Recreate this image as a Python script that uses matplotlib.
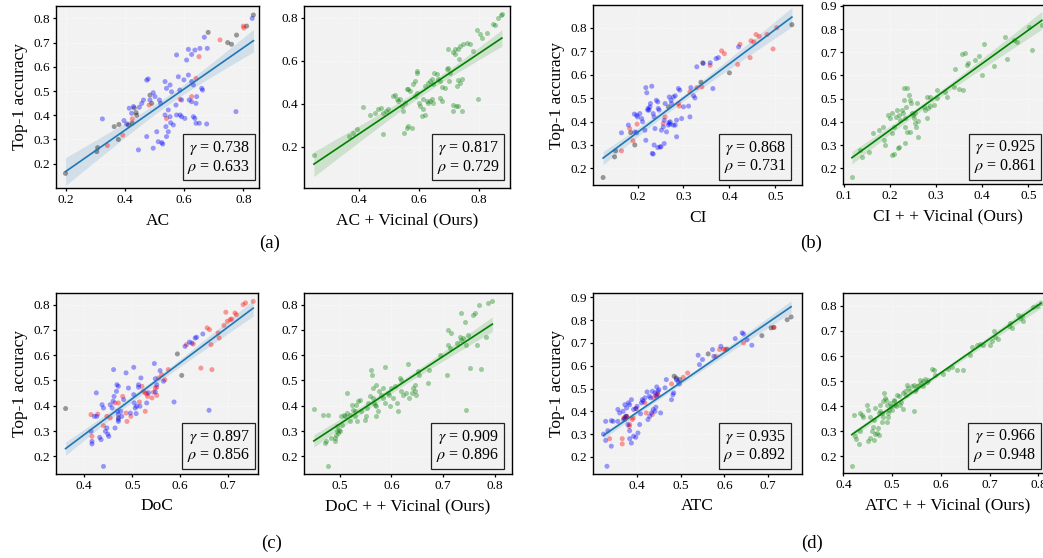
import numpy as np
import matplotlib
matplotlib.use("Agg")
import matplotlib.pyplot as plt

plt.rcParams["font.family"] = ["Liberation Serif", "DejaVu Serif"]
plt.rcParams["mathtext.fontset"] = "stix"

# ---------------- (a) AC ----------------
ac_x = [0.198, 0.304, 0.307, 0.363, 0.379, 0.377, 0.411, 0.424, 0.431, 0.437, 0.439, 0.484, 0.490,
        0.681, 0.747, 0.760, 0.777, 0.811, 0.834,
        0.340, 0.392, 0.424, 0.481, 0.540, 0.586, 0.625, 0.640, 0.650, 0.721, 0.800, 0.802,
        0.323, 0.396, 0.405, 0.414, 0.422, 0.428, 0.445, 0.448, 0.456, 0.462, 0.473, 0.478, 0.473,
        0.484, 0.495, 0.501, 0.507, 0.495, 0.512, 0.524, 0.527, 0.516, 0.520, 0.535, 0.540, 0.552,
        0.557, 0.535, 0.546, 0.552, 0.554, 0.563, 0.538, 0.546, 0.540, 0.580, 0.585, 0.591, 0.599,
        0.572, 0.574, 0.586, 0.591, 0.602, 0.574, 0.608, 0.625, 0.614, 0.636, 0.653, 0.668, 0.678,
        0.614, 0.625, 0.631, 0.617, 0.625, 0.642, 0.640, 0.659, 0.662, 0.631, 0.636, 0.640, 0.651,
        0.676, 0.775, 0.830]
ac_y = [0.160, 0.250, 0.266, 0.353, 0.362, 0.300, 0.360, 0.367, 0.430, 0.411, 0.400, 0.483, 0.449,
        0.742, 0.700, 0.693, 0.731, 0.768, 0.814,
        0.275, 0.318, 0.385, 0.442, 0.387, 0.466, 0.477, 0.552, 0.642, 0.711, 0.768, 0.760,
        0.385, 0.378, 0.364, 0.429, 0.408, 0.436, 0.257, 0.433, 0.449, 0.463, 0.545, 0.550, 0.312,
        0.463, 0.493, 0.477, 0.332, 0.264, 0.291, 0.287, 0.281, 0.463, 0.449, 0.539, 0.511, 0.525,
        0.497, 0.401, 0.422, 0.394, 0.369, 0.360, 0.353, 0.332, 0.312, 0.559, 0.504, 0.463, 0.546,
        0.442, 0.401, 0.401, 0.394, 0.387, 0.649, 0.628, 0.651, 0.672, 0.669, 0.676, 0.722, 0.676,
        0.566, 0.539, 0.525, 0.463, 0.456, 0.477, 0.449, 0.511, 0.504, 0.394, 0.387, 0.367, 0.367,
        0.364, 0.415, 0.800]
ac_counts = (19, 12)   # gray, red; the rest are blue

# ---------------- (a) AC + Vicinal ----------------
acv_x = [0.250, 0.368, 0.379, 0.392, 0.414, 0.437, 0.453, 0.464, 0.472, 0.481, 0.490, 0.498, 0.481,
         0.514, 0.520, 0.526, 0.531, 0.537, 0.542, 0.548, 0.553, 0.551, 0.559, 0.564, 0.576, 0.559,
         0.564, 0.570, 0.579, 0.587, 0.592, 0.594, 0.587, 0.592, 0.601, 0.603, 0.614, 0.620, 0.609,
         0.614, 0.626, 0.631, 0.637, 0.642, 0.648, 0.620, 0.631, 0.637, 0.642, 0.648, 0.651, 0.659,
         0.664, 0.670, 0.670, 0.676, 0.676, 0.687, 0.692, 0.698, 0.703, 0.701, 0.698, 0.712, 0.720,
         0.729, 0.720, 0.712, 0.723, 0.714, 0.742, 0.731, 0.737, 0.748, 0.759, 0.770, 0.726, 0.737,
         0.742, 0.731, 0.733, 0.803, 0.792, 0.809, 0.826, 0.798, 0.848, 0.853, 0.872, 0.876, 0.864,
         0.781]
acv_y = [0.161, 0.250, 0.265, 0.281, 0.386, 0.350, 0.355, 0.374, 0.381, 0.358, 0.366, 0.374, 0.262,
         0.436, 0.443, 0.420, 0.412, 0.420, 0.389, 0.366, 0.405, 0.265, 0.288, 0.296, 0.288, 0.467,
         0.467, 0.459, 0.490, 0.505, 0.552, 0.544, 0.436, 0.451, 0.405, 0.389, 0.374, 0.350, 0.343,
         0.420, 0.412, 0.405, 0.412, 0.420, 0.405, 0.482, 0.498, 0.505, 0.513, 0.490, 0.544, 0.536,
         0.513, 0.505, 0.428, 0.412, 0.479, 0.474, 0.560, 0.567, 0.544, 0.505, 0.653, 0.640, 0.653,
         0.653, 0.629, 0.394, 0.389, 0.366, 0.366, 0.389, 0.668, 0.676, 0.684, 0.676, 0.482, 0.498,
         0.513, 0.510, 0.606, 0.722, 0.741, 0.707, 0.730, 0.420, 0.769, 0.764, 0.811, 0.816, 0.800,
         0.645]

# ---------------- (b) CI ----------------
ci_x = [0.125, 0.150, 0.152, 0.185, 0.194, 0.267, 0.338, 0.342, 0.400, 0.536,
        0.165, 0.183, 0.190, 0.199, 0.256, 0.260, 0.289, 0.291, 0.314, 0.329, 0.340, 0.358, 0.383,
        0.389, 0.418, 0.423, 0.445, 0.447, 0.453, 0.458, 0.465, 0.482, 0.495, 0.503,
        0.165, 0.180, 0.193, 0.198, 0.194, 0.198, 0.200, 0.205, 0.209, 0.211, 0.218, 0.220, 0.222,
        0.223, 0.225, 0.227, 0.228, 0.218, 0.216, 0.231, 0.234, 0.236, 0.238, 0.236, 0.232, 0.234,
        0.241, 0.244, 0.245, 0.247, 0.244, 0.249, 0.251, 0.258, 0.252, 0.256, 0.258, 0.260, 0.263,
        0.267, 0.268, 0.271, 0.271, 0.269, 0.273, 0.274, 0.278, 0.282, 0.278, 0.285, 0.285, 0.282,
        0.289, 0.292, 0.296, 0.300, 0.311, 0.314, 0.316, 0.322, 0.325, 0.329, 0.343, 0.358, 0.364,
        0.371, 0.376, 0.420]
ci_y = [0.161, 0.249, 0.275, 0.353, 0.300, 0.463, 0.568, 0.651, 0.608, 0.814,
        0.275, 0.370, 0.318, 0.389, 0.392, 0.420, 0.477, 0.466, 0.527, 0.545, 0.548, 0.640, 0.702,
        0.690, 0.644, 0.730, 0.673, 0.745, 0.740, 0.772, 0.764, 0.772, 0.710, 0.801,
        0.352, 0.385, 0.432, 0.427, 0.356, 0.352, 0.420, 0.434, 0.413, 0.399, 0.545, 0.523, 0.449,
        0.456, 0.449, 0.463, 0.477, 0.320, 0.363, 0.551, 0.434, 0.420, 0.370, 0.300, 0.264, 0.261,
        0.491, 0.484, 0.456, 0.449, 0.289, 0.292, 0.292, 0.306, 0.363, 0.377, 0.406, 0.477, 0.356,
        0.385, 0.395, 0.399, 0.389, 0.505, 0.491, 0.477, 0.505, 0.510, 0.385, 0.406, 0.335, 0.385,
        0.541, 0.534, 0.413, 0.463, 0.466, 0.420, 0.545, 0.510, 0.501, 0.634, 0.648, 0.651, 0.541,
        0.669, 0.673, 0.719]
ci_counts = (10, 24)

# ---------------- (b) CI + Vicinal ----------------
civ_x = [0.118, 0.136, 0.140, 0.154, 0.163, 0.176, 0.185, 0.187, 0.190, 0.197, 0.200, 0.205, 0.205,
         0.208, 0.208, 0.205, 0.214, 0.215, 0.219, 0.221, 0.217, 0.220, 0.230, 0.238, 0.231, 0.236,
         0.226, 0.228, 0.233, 0.233, 0.237, 0.241, 0.243, 0.246, 0.250, 0.248, 0.253, 0.255, 0.257,
         0.262, 0.233, 0.244, 0.262, 0.255, 0.259, 0.273, 0.277, 0.280, 0.280, 0.287, 0.282, 0.286,
         0.295, 0.302, 0.302, 0.320, 0.324, 0.338, 0.342, 0.349, 0.356, 0.363, 0.358, 0.367, 0.370,
         0.385, 0.394, 0.399, 0.404, 0.426, 0.450, 0.453, 0.468, 0.475, 0.507, 0.502, 0.529]
civ_y = [0.161, 0.279, 0.250, 0.272, 0.350, 0.365, 0.379, 0.322, 0.300, 0.429, 0.415, 0.437, 0.351,
         0.379, 0.262, 0.257, 0.422, 0.451, 0.429, 0.408, 0.286, 0.293, 0.544, 0.548, 0.494, 0.465,
         0.451, 0.437, 0.415, 0.379, 0.358, 0.515, 0.494, 0.480, 0.429, 0.437, 0.415, 0.394, 0.379,
         0.405, 0.307, 0.358, 0.336, 0.440, 0.480, 0.465, 0.451, 0.415, 0.508, 0.508, 0.458, 0.468,
         0.472, 0.537, 0.501, 0.530, 0.508, 0.551, 0.630, 0.541, 0.692, 0.698, 0.537, 0.645, 0.652,
         0.666, 0.683, 0.604, 0.734, 0.640, 0.767, 0.673, 0.752, 0.745, 0.709, 0.810, 0.817]

# ---------------- (c) DoC ----------------
doc_x = [0.361, 0.471, 0.594, 0.603,
         0.414, 0.416, 0.428, 0.440, 0.447, 0.454, 0.464, 0.471, 0.480, 0.487, 0.489, 0.497, 0.515,
         0.520, 0.523, 0.527, 0.530, 0.532, 0.527, 0.541, 0.544, 0.548, 0.551, 0.551, 0.555, 0.561,
         0.568, 0.575, 0.613, 0.627, 0.643, 0.656, 0.661, 0.664, 0.666, 0.679, 0.681, 0.691, 0.695,
         0.698, 0.704, 0.707, 0.714, 0.717, 0.731, 0.736, 0.752,
         0.414, 0.416, 0.416, 0.425, 0.421, 0.426, 0.432, 0.435, 0.437, 0.440, 0.440, 0.444, 0.447,
         0.449, 0.451, 0.454, 0.458, 0.460, 0.461, 0.462, 0.464, 0.467, 0.468, 0.471, 0.469, 0.471,
         0.471, 0.471, 0.476, 0.478, 0.482, 0.487, 0.492, 0.496, 0.503, 0.503, 0.504, 0.506, 0.508,
         0.509, 0.513, 0.513, 0.516, 0.518, 0.530, 0.534, 0.546, 0.548, 0.551, 0.548, 0.558, 0.565,
         0.587, 0.610, 0.619, 0.624, 0.631, 0.634, 0.647, 0.660]
doc_y = [0.389, 0.352, 0.605, 0.520,
         0.365, 0.279, 0.367, 0.321, 0.358, 0.352, 0.411, 0.411, 0.437, 0.371, 0.338, 0.358, 0.415,
         0.477, 0.457, 0.451, 0.447, 0.437, 0.378, 0.431, 0.454, 0.470, 0.473, 0.441, 0.510, 0.523,
         0.503, 0.543, 0.642, 0.644, 0.549, 0.708, 0.701, 0.642, 0.543, 0.688, 0.668, 0.718, 0.770,
         0.734, 0.741, 0.743, 0.767, 0.760, 0.800, 0.807, 0.813,
         0.299, 0.259, 0.249, 0.451, 0.358, 0.358, 0.275, 0.266, 0.404, 0.391, 0.160, 0.299, 0.312,
         0.288, 0.279, 0.404, 0.391, 0.418, 0.543, 0.437, 0.312, 0.457, 0.483, 0.477, 0.378, 0.365,
         0.345, 0.338, 0.378, 0.358, 0.424, 0.530, 0.470, 0.371, 0.552, 0.444, 0.411, 0.391, 0.369,
         0.398, 0.473, 0.483, 0.398, 0.510, 0.411, 0.451, 0.567, 0.507, 0.483, 0.454, 0.539, 0.497,
         0.415, 0.635, 0.652, 0.648, 0.668, 0.671, 0.684, 0.382]
doc_counts = (4, 47)

# ---------------- (c) DoC + Vicinal ----------------
docv_x = [0.450, 0.468, 0.477, 0.471, 0.473, 0.477, 0.484, 0.490, 0.492, 0.495, 0.497, 0.494, 0.499,
          0.501, 0.490, 0.503, 0.505, 0.508, 0.510, 0.514, 0.514, 0.519, 0.519, 0.523, 0.526, 0.529,
          0.529, 0.532, 0.534, 0.535, 0.539, 0.542, 0.548, 0.550, 0.553, 0.555, 0.558, 0.561, 0.563,
          0.565, 0.565, 0.566, 0.568, 0.570, 0.571, 0.574, 0.571, 0.576, 0.579, 0.583, 0.587, 0.584,
          0.587, 0.594, 0.595, 0.597, 0.600, 0.603, 0.606, 0.610, 0.613, 0.616, 0.619, 0.619, 0.623,
          0.629, 0.632, 0.634, 0.639, 0.642, 0.645, 0.645, 0.648, 0.652, 0.654, 0.671, 0.672, 0.694,
          0.708, 0.710, 0.716, 0.710, 0.713, 0.726, 0.732, 0.735, 0.739, 0.734, 0.742, 0.744, 0.745,
          0.752, 0.748, 0.758, 0.761, 0.766, 0.770, 0.774, 0.783, 0.787, 0.795]
docv_y = [0.389, 0.365, 0.365, 0.253, 0.259, 0.160, 0.273, 0.273, 0.286, 0.299, 0.292, 0.319, 0.305,
          0.301, 0.259, 0.358, 0.325, 0.365, 0.358, 0.451, 0.371, 0.365, 0.338, 0.404, 0.385, 0.378,
          0.358, 0.404, 0.338, 0.418, 0.424, 0.378, 0.345, 0.358, 0.391, 0.411, 0.437, 0.543, 0.523,
          0.470, 0.431, 0.411, 0.404, 0.358, 0.398, 0.378, 0.483, 0.457, 0.444, 0.470, 0.552, 0.431,
          0.411, 0.451, 0.444, 0.398, 0.470, 0.431, 0.477, 0.411, 0.378, 0.510, 0.503, 0.457, 0.444,
          0.451, 0.567, 0.431, 0.451, 0.470, 0.483, 0.457, 0.441, 0.536, 0.523, 0.490, 0.543, 0.602,
          0.520, 0.701, 0.688, 0.642, 0.629, 0.648, 0.671, 0.661, 0.668, 0.767, 0.731, 0.383, 0.642,
          0.549, 0.681, 0.760, 0.767, 0.642, 0.800, 0.545, 0.671, 0.807, 0.816]

# ---------------- (d) ATC ----------------
atc_x = [0.372, 0.376, 0.485, 0.490, 0.498, 0.563, 0.606, 0.686, 0.707, 0.713, 0.744, 0.753,
         0.337, 0.366, 0.366, 0.370, 0.372, 0.376, 0.382, 0.383, 0.389, 0.391, 0.398, 0.418, 0.421,
         0.435, 0.438, 0.443, 0.446, 0.448, 0.479, 0.506, 0.516, 0.581, 0.589, 0.598, 0.602, 0.644,
         0.714,
         0.323, 0.328, 0.331, 0.333, 0.328, 0.341, 0.345, 0.341, 0.356, 0.360, 0.356, 0.368, 0.372,
         0.376, 0.380, 0.383, 0.369, 0.374, 0.379, 0.383, 0.387, 0.383, 0.387, 0.392, 0.397, 0.392,
         0.397, 0.400, 0.402, 0.406, 0.408, 0.410, 0.412, 0.414, 0.418, 0.423, 0.425, 0.429, 0.433,
         0.428, 0.431, 0.435, 0.437, 0.441, 0.443, 0.445, 0.441, 0.448, 0.450, 0.445, 0.454, 0.464,
         0.467, 0.479, 0.482, 0.484, 0.490, 0.494, 0.497, 0.540, 0.543, 0.550, 0.573, 0.576, 0.592,
         0.625, 0.641, 0.644, 0.663, 0.652]
atc_y = [0.371, 0.378, 0.554, 0.546, 0.539, 0.652, 0.673, 0.732, 0.766, 0.768, 0.802, 0.814,
         0.280, 0.280, 0.257, 0.371, 0.364, 0.378, 0.334, 0.342, 0.364, 0.371, 0.412, 0.437, 0.393,
         0.386, 0.459, 0.470, 0.476, 0.473, 0.520, 0.549, 0.568, 0.641, 0.671, 0.673, 0.671, 0.700,
         0.768,
         0.300, 0.272, 0.159, 0.315, 0.356, 0.359, 0.356, 0.247, 0.408, 0.393, 0.356, 0.400, 0.429,
         0.415, 0.437, 0.429, 0.364, 0.378, 0.342, 0.315, 0.451, 0.280, 0.261, 0.291, 0.286, 0.408,
         0.412, 0.422, 0.305, 0.342, 0.389, 0.437, 0.451, 0.444, 0.459, 0.485, 0.364, 0.378, 0.393,
         0.466, 0.459, 0.488, 0.408, 0.400, 0.418, 0.466, 0.481, 0.488, 0.495, 0.507, 0.393, 0.503,
         0.539, 0.451, 0.473, 0.481, 0.539, 0.529, 0.520, 0.646, 0.605, 0.627, 0.671, 0.641, 0.685,
         0.719, 0.744, 0.739, 0.690, 0.714]
atc_counts = (12, 27)

# ---------------- (d) ATC + Vicinal ----------------
atcv_x = [0.417, 0.421, 0.424, 0.426, 0.431, 0.434, 0.434, 0.438, 0.441, 0.448, 0.451, 0.455, 0.451,
          0.455, 0.458, 0.460, 0.462, 0.465, 0.462, 0.465, 0.468, 0.470, 0.472, 0.472, 0.475, 0.475,
          0.479, 0.479, 0.481, 0.482, 0.484, 0.486, 0.488, 0.489, 0.491, 0.492, 0.489, 0.494, 0.496,
          0.498, 0.499, 0.503, 0.504, 0.506, 0.508, 0.509, 0.513, 0.515, 0.518, 0.522, 0.523, 0.527,
          0.529, 0.530, 0.533, 0.537, 0.540, 0.544, 0.545, 0.547, 0.549, 0.550, 0.554, 0.557, 0.559,
          0.563, 0.564, 0.568, 0.571, 0.574, 0.581, 0.585, 0.588, 0.604, 0.615, 0.622, 0.633, 0.645,
          0.660, 0.663, 0.674, 0.680, 0.686, 0.701, 0.704, 0.708, 0.711, 0.718, 0.739, 0.742, 0.745,
          0.759, 0.763, 0.766, 0.769, 0.790, 0.797, 0.805]
atcv_y = [0.160, 0.366, 0.280, 0.270, 0.249, 0.300, 0.373, 0.366, 0.359, 0.406, 0.386, 0.359, 0.260,
          0.273, 0.300, 0.319, 0.346, 0.392, 0.266, 0.290, 0.293, 0.313, 0.373, 0.286, 0.379, 0.406,
          0.373, 0.339, 0.359, 0.419, 0.452, 0.432, 0.426, 0.406, 0.373, 0.359, 0.339, 0.386, 0.412,
          0.399, 0.386, 0.419, 0.426, 0.406, 0.399, 0.446, 0.439, 0.406, 0.416, 0.390, 0.452, 0.459,
          0.446, 0.483, 0.472, 0.459, 0.479, 0.485, 0.382, 0.459, 0.469, 0.479, 0.485, 0.505, 0.492,
          0.499, 0.479, 0.508, 0.496, 0.505, 0.549, 0.545, 0.525, 0.528, 0.549, 0.558, 0.545, 0.545,
          0.605, 0.634, 0.645, 0.647, 0.642, 0.645, 0.658, 0.698, 0.674, 0.669, 0.718, 0.731, 0.711,
          0.764, 0.751, 0.758, 0.738, 0.797, 0.801, 0.811]

# correlation summaries shown in each panel
stats_gamma = ["0.738", "0.817", "0.868", "0.925", "0.897", "0.909", "0.935", "0.966"]
stats_rho = ["0.633", "0.729", "0.731", "0.861", "0.856", "0.896", "0.892", "0.948"]

x_labels = ["AC", "AC + Vicinal (Ours)", "CI", "CI + + Vicinal (Ours)",
            "DoC", "DoC + + Vicinal (Ours)", "ATC", "ATC + + Vicinal (Ours)"]
panel_tags = ["(a)", "(b)", "(c)", "(d)"]

GROUP_COLORS = {"k": "#000000", "r": "#ff0000", "b": "#0000ff"}

W, H = 1043, 558
fig = plt.figure(figsize=(W / 100, H / 100), dpi=100)


def add_axes_px(left, top, right, bottom):
    return fig.add_axes([left / W, 1 - bottom / H, (right - left) / W, (bottom - top) / H])


def group_colors(n, counts):
    n_gray, n_red = counts
    codes = ["k"] * n_gray + ["r"] * n_red + ["b"] * (n - n_gray - n_red)
    return [GROUP_COLORS[c] for c in codes]


def draw_fit(ax, x, y, color):
    x = np.asarray(x)
    y = np.asarray(y)
    n = len(x)
    slope, intercept = np.polyfit(x, y, 1)
    xs = np.linspace(x.min(), x.max(), 100)
    fit = intercept + slope * xs
    resid = y - (intercept + slope * x)
    s = np.sqrt(np.sum(resid ** 2) / (n - 2))
    sxx = np.sum((x - x.mean()) ** 2)
    half = 1.98 * s * np.sqrt(1.0 / n + (xs - x.mean()) ** 2 / sxx)
    ax.fill_between(xs, fit - half, fit + half, color=color, alpha=0.15, lw=0, zorder=2)
    ax.plot(xs, fit, color=color, lw=1.2, zorder=4)


def style_axes(ax, xlim, ylim, xticks, yticks, xlabel, ylabel=None):
    ax.set_facecolor("#f2f2f2")
    ax.set_xlim(*xlim)
    ax.set_ylim(*ylim)
    ax.set_xticks(xticks)
    ax.set_yticks(yticks)
    ax.set_xticklabels([f"{t:.1f}" for t in xticks])
    ax.set_yticklabels([f"{t:.1f}" for t in yticks])
    ax.tick_params(labelsize=9.5, length=2.0, width=0.9, pad=2, color="black")
    ax.grid(True, color="white", lw=0.6, ls=":", alpha=0.9, zorder=0)
    ax.set_axisbelow(True)
    for sp in ax.spines.values():
        sp.set_color("black")
        sp.set_linewidth(1.0)
    ax.set_xlabel(xlabel, fontsize=12.5, labelpad=5)
    if ylabel:
        ax.set_ylabel(ylabel, fontsize=12.5, labelpad=4)


def add_stats(ax, g, r, xfrac, yfrac):
    ax.text(xfrac, yfrac, f"$\\gamma$ = {g}\n$\\rho$ = {r}", transform=ax.transAxes,
            ha="right", va="bottom", fontsize=11.5, linespacing=1.05, zorder=6,
            bbox=dict(boxstyle="square,pad=0.3", fc="#f2f2f2", ec="#222222", lw=0.9))


panels = [
    # (data, rect px, xlim, ylim, xticks, yticks, kind, stats box anchor)
    ((ac_x, ac_y, ac_counts), (56, 6, 259, 188), (0.166, 0.853), (0.0997, 0.851),
     [0.2, 0.4, 0.6, 0.8], np.arange(0.2, 0.81, 0.1), "base", (0.958, 0.068)),
    ((acv_x, acv_y, None), (304, 6, 510, 188), (0.217, 0.903), (0.009, 0.854),
     [0.4, 0.6, 0.8], [0.2, 0.4, 0.6, 0.8], "ours", (0.948, 0.068)),
    ((ci_x, ci_y, ci_counts), (593, 5, 802, 185), (0.103, 0.558), (0.129, 0.898),
     [0.2, 0.3, 0.4, 0.5], np.arange(0.2, 0.81, 0.1), "base", (0.925, 0.053)),
    ((civ_x, civ_y, None), (843, 5, 1052, 184), (0.0987, 0.551), (0.132, 0.904),
     [0.1, 0.2, 0.3, 0.4, 0.5], np.arange(0.2, 0.91, 0.1), "ours", (0.925, 0.050)),
    ((doc_x, doc_y, doc_counts), (56, 293, 258, 474), (0.341, 0.762), (0.130, 0.846),
     [0.4, 0.5, 0.6, 0.7], np.arange(0.2, 0.81, 0.1), "base", (0.962, 0.053)),
    ((docv_x, docv_y, None), (304, 293, 512, 474), (0.431, 0.833), (0.130, 0.846),
     [0.5, 0.6, 0.7, 0.8], np.arange(0.2, 0.81, 0.1), "ours", (0.939, 0.053)),
    ((atc_x, atc_y, atc_counts), (593, 293, 802, 474), (0.299, 0.778), (0.125, 0.919),
     [0.4, 0.5, 0.6, 0.7], np.arange(0.2, 0.91, 0.1), "base", (0.925, 0.053)),
    ((atcv_x, atcv_y, None), (843, 293, 1052, 473), (0.399, 0.828), (0.134, 0.851),
     [0.4, 0.5, 0.6, 0.7, 0.8], np.arange(0.2, 0.81, 0.1), "ours", (0.925, 0.050)),
]

for i, (data, rect, xlim, ylim, xt, yt, kind, anchor) in enumerate(panels):
    ax = add_axes_px(*rect)
    x, y, counts = data
    if kind == "base":
        ax.scatter(x, y, s=13, c=group_colors(len(x), counts), alpha=0.38, lw=0, zorder=3)
        draw_fit(ax, x, y, "#1f77b4")
    else:
        ax.scatter(x, y, s=13, color="#008000", alpha=0.35, lw=0, zorder=3)
        draw_fit(ax, x, y, "#008000")
    style_axes(ax, xlim, ylim, list(xt), [round(v, 1) for v in yt], x_labels[i],
               "Top-1 accuracy" if i % 2 == 0 else None)
    add_stats(ax, stats_gamma[i], stats_rho[i], *anchor)

tag_pos = [(270, 243), (811, 243), (272, 543), (812, 543)]
for tag, (px, py) in zip(panel_tags, tag_pos):
    fig.text(px / W, 1 - py / H, tag, ha="center", va="center", fontsize=13.5)

fig.savefig("out.png", dpi=100)
